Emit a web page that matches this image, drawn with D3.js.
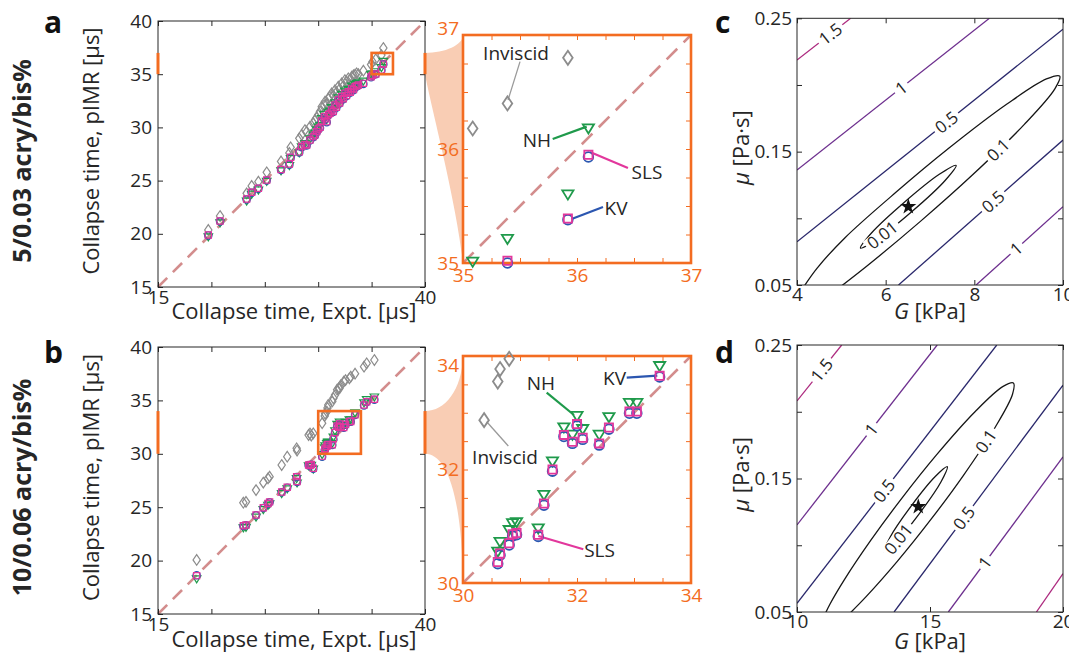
<!DOCTYPE html>
<html>
<head>
<meta charset="utf-8">
<script src="https://cdn.jsdelivr.net/npm/d3@7"></script>
<style>
  body { margin: 0; background: #fff; }
  svg { display: block; }
</style>
</head>
<body>
<script>
// ---------- data ----------
// row a: 5/0.03 acry/bis%
const expA = [19.71, 20.81, 23.30, 23.77, 24.40, 25.18, 26.52, 27.30, 27.42, 28.23, 28.45, 28.76, 28.92, 29.23, 29.54, 29.70, 29.86, 30.00, 30.17, 30.33, 30.57, 30.64, 30.80, 30.95, 31.10, 31.26, 31.40, 31.57, 31.70, 31.88, 32.00, 32.20, 32.35, 32.50, 32.65, 32.82, 33.00, 33.14, 33.30, 33.45, 33.60, 33.76, 34.23, 34.95, 35.085, 35.39, 35.92, 36.10];
const invA = [20.36, 21.67, 23.80, 24.50, 24.90, 25.78, 26.80, 27.60, 28.13, 28.97, 29.30, 29.75, 29.60, 30.07, 30.40, 30.70, 30.90, 31.17, 31.50, 31.95, 32.10, 32.42, 32.20, 32.73, 32.90, 33.20, 33.00, 33.50, 33.30, 33.83, 33.60, 34.14, 33.90, 34.45, 34.30, 34.61, 34.50, 34.76, 34.90, 34.95, 35.08, 35.00, 35.33, 35.90, 36.18, 36.40, 36.80, 37.46];
const nhA = [19.70, 21.00, 23.05, 23.70, 24.10, 24.90, 25.90, 26.40, 27.05, 27.60, 28.15, 28.45, 28.40, 28.90, 29.25, 29.45, 29.75, 30.00, 30.15, 30.80, 31.20, 31.00, 30.72, 31.40, 31.52, 31.84, 31.70, 32.30, 32.10, 32.77, 32.50, 33.09, 32.90, 33.40, 33.20, 33.56, 33.50, 33.87, 33.75, 34.03, 34.10, 34.18, 34.34, 34.95, 35.01, 35.21, 35.60, 36.18];
const kvA = [19.85, 21.15, 23.22, 23.85, 24.23, 25.01, 26.00, 26.50, 27.15, 27.65, 28.14, 28.35, 28.30, 28.77, 29.08, 29.25, 29.55, 29.80, 29.95, 30.55, 30.95, 30.75, 30.49, 31.15, 31.28, 31.59, 31.45, 32.05, 31.85, 32.52, 32.25, 32.84, 32.65, 33.15, 32.95, 33.31, 33.25, 33.62, 33.50, 33.78, 33.85, 33.93, 34.09, 34.71, 34.86, 35.00, 35.38, 35.93];
const slsA = [19.89, 21.20, 23.27, 23.90, 24.28, 25.06, 26.05, 26.55, 27.20, 27.70, 28.19, 28.40, 28.35, 28.82, 29.13, 29.30, 29.60, 29.85, 30.00, 30.60, 31.00, 30.80, 30.54, 31.20, 31.33, 31.64, 31.50, 32.10, 31.90, 32.57, 32.30, 32.89, 32.70, 33.20, 33.00, 33.36, 33.30, 33.67, 33.55, 33.83, 33.90, 33.98, 34.14, 34.76, 34.90, 35.02, 35.39, 35.95];

// row b: 10/0.06 acry/bis%
const expB = [18.62, 22.99, 23.24, 24.18, 24.86, 25.30, 25.45, 26.58, 27.10, 27.98, 28.02, 29.10, 29.23, 29.35, 29.54, 30.37, 30.61, 30.65, 30.81, 30.87, 30.94, 31.32, 31.42, 31.57, 31.77, 31.92, 32.00, 32.10, 32.39, 32.56, 32.92, 33.05, 33.45, 34.29, 34.54, 35.26];
const invB = [20.06, 25.42, 25.50, 26.60, 27.30, 27.70, 27.86, 28.95, 29.73, 30.51, 30.30, 31.76, 31.90, 31.70, 31.92, 32.87, 33.55, 33.77, 33.95, 34.30, 34.57, 34.90, 35.20, 35.50, 36.00, 36.13, 36.13, 36.40, 36.75, 36.90, 37.07, 37.22, 37.50, 38.16, 38.47, 38.78];
const nhB = [18.27, 23.05, 23.10, 24.05, 24.75, 25.15, 25.30, 26.25, 26.70, 27.65, 27.25, 28.85, 28.80, 28.90, 28.55, 29.90, 30.55, 30.72, 30.93, 31.05, 31.07, 30.96, 31.55, 32.14, 32.74, 32.61, 32.94, 32.71, 32.61, 32.92, 33.17, 33.17, 33.82, 34.75, 35.05, 35.30];
const kvB = [18.62, 23.25, 23.30, 24.24, 24.92, 25.32, 25.47, 26.39, 26.83, 27.83, 27.37, 28.92, 28.87, 28.97, 28.60, 29.72, 30.34, 30.49, 30.67, 30.83, 30.85, 30.82, 31.37, 31.97, 32.58, 32.46, 32.77, 32.53, 32.43, 32.71, 32.99, 32.99, 33.63, 34.53, 34.84, 35.07];
const slsB = [18.59, 23.27, 23.33, 24.27, 24.95, 25.35, 25.50, 26.42, 26.86, 27.86, 27.40, 28.95, 28.90, 29.00, 28.64, 29.78, 30.37, 30.52, 30.70, 30.86, 30.88, 30.85, 31.40, 32.00, 32.61, 32.49, 32.80, 32.56, 32.46, 32.74, 33.02, 33.02, 33.65, 34.57, 34.88, 35.10];

// callouts in the zoomed panels: text centre, line start, line end (data units)
const annotA = [
  { key: "inv", text: "Inviscid", at: [35.465, 36.842], from: [35.50, 36.766], to: [35.395, 36.43] },
  { key: "nh", text: "NH", at: [35.649, 36.079], from: [35.787, 36.088], to: [36.085, 36.196] },
  { key: "sls", text: "SLS", at: [36.614, 35.798], from: [36.447, 35.833], to: [36.114, 35.974] },
  { key: "kv", text: "KV", at: [36.342, 35.482], from: [36.228, 35.491], to: [35.953, 35.386] }
];
const annotB = [
  { key: "kv", text: "KV", at: [32.658, 33.612], from: [32.872, 33.618], to: [33.409, 33.653] },
  { key: "nh", text: "NH", at: [31.368, 33.524], from: [31.468, 33.353], to: [31.947, 32.96] },
  { key: "inv", text: "Inviscid", at: [30.737, 32.22], from: [30.795, 32.414], to: [30.416, 32.842] },
  { key: "sls", text: "SLS", at: [32.395, 30.581], from: [32.111, 30.594], to: [31.321, 30.828] }
];

const cLevel15 = [[4.0, 0.2187], [5.21, 0.25]];
const cLevel1Up = [[4.0, 0.1362], [8.34, 0.25]];
const cLevel05Up = [[4.0, 0.0824], [10.0, 0.2418]];
const cLevel01 = [[4.12, 0.047], [4.45, 0.0625], [5.078, 0.0853], [6.231, 0.1195], [7.415, 0.1523], [8.728, 0.1855], [9.626, 0.2045], [9.926, 0.2066], [9.816, 0.1971], [9.123, 0.1703], [7.943, 0.1321], [6.79, 0.0979], [5.606, 0.065], [4.78, 0.0436]];
const cLevel001 = [[7.589, 0.1397], [7.21, 0.133], [6.423, 0.1121], [5.685, 0.0892], [5.432, 0.0777], [5.811, 0.0844], [6.599, 0.1053], [7.336, 0.1282]];
const cLevel05Low = [[6.29, 0.05], [10.0, 0.1587]];
const cLevel1Low = [[8.04, 0.05], [10.0, 0.1087]];
const cLabels = [["1.5", 4.744, 0.2388], ["1", 6.21, 0.2037], ["0.5", 7.24, 0.1775], ["0.1", 8.505, 0.1525], ["0.01", 5.985, 0.085], ["0.5", 8.428, 0.1124], ["1", 8.87, 0.08]];
const cBest = [6.511, 0.1087];

const dLevel15Up = [[10.0, 0.2081], [11.68, 0.25]];
const dLevel15Low = [[19.0, 0.05], [20.0, 0.0787]];
const dLevel1Up = [[10.0, 0.1152], [15.27, 0.25]];
const dLevel05Up = [[10.0, 0.0565], [17.51, 0.25]];
const dLevel01 = [[10.921, 0.0427], [11.237, 0.0558], [11.771, 0.0739], [12.771, 0.1036], [13.974, 0.1361], [15.244, 0.1677], [16.692, 0.2], [17.733, 0.2188], [18.135, 0.2216], [18.102, 0.2131], [17.451, 0.1884], [16.252, 0.1522], [15.049, 0.1197], [13.778, 0.0881], [12.59, 0.0613], [11.853, 0.0464]];
const dLevel001 = [[15.65, 0.1588], [15.188, 0.1513], [14.297, 0.1295], [13.504, 0.1062], [13.274, 0.0952], [13.737, 0.1027], [14.628, 0.1245], [15.421, 0.1478]];
const dLevel05Low = [[13.65, 0.05], [20.0, 0.22]];
const dLevel1Low = [[15.69, 0.05], [20.0, 0.1661]];
const dLabels = [["1.5", 10.93, 0.2313], ["1", 12.67, 0.1888], ["0.5", 13.0, 0.1451], ["0.1", 17.13, 0.1776], ["0.01", 14.0, 0.1015], ["0.5", 16.13, 0.1227], ["1", 16.94, 0.089]];
const dBest = [14.56, 0.1289];

const muTicks = [0.05, 0.1, 0.15, 0.2, 0.25];
const muTickLabels = [0.05, 0.15, 0.25];

// ---------- style ----------
const FONT = '"Open Sans", "DejaVu Sans", sans-serif';
const INK = "#262626";
const ORANGE = "#f36c21";
const PEACH = "#f9cdb4";
const DIAG = "#d38d8d";
const TICK_FONT = 19;
const TITLE_FONT = 22;
const SERIES = [
  { key: "inv", color: "#8c8c8c", shape: "diamond" },
  { key: "nh", color: "#1f9a4b", shape: "triangle" },
  { key: "kv", color: "#2b56b0", shape: "circle" },
  { key: "sls", color: "#e2379c", shape: "square" }
];
const LEVEL_COLOR = { "0.01": "#161616", "0.1": "#161616", "0.5": "#29276b", "1": "#6d2f8e", "1.5": "#ad2a7f" };

const MAIN_X = [158, 425];
const ZOOM_X = [463, 691];
const CONT_X = [797, 1063];

const rows = [
  {
    letter: "a", label: "5/0.03 acry/bis%",
    exp: expA, inv: invA, nh: nhA, kv: kvA, sls: slsA, annot: annotA,
    mainY: [287, 21], zoomY: [263, 35], zoomDom: [35, 37], zoomStep: 0.25, zoomLabels: [35, 36, 37],
    topShift: -7, funnelTop: [[0.53, 0], [1, 0.44]], funnelBot: [[0.18, 0.19], [0.82, 0.67]],
    letterY: 33, mainLabelY: 319,
    cont: {
      gDom: [4, 10], gTicks: [4, 6, 8, 10], y: [285, 18.3], labelY: 319, best: cBest, labels: cLabels,
      lines: [
        { level: "1.5", pts: cLevel15 }, { level: "1", pts: cLevel1Up }, { level: "0.5", pts: cLevel05Up },
        { level: "0.1", pts: cLevel01 }, { level: "0.01", pts: cLevel001, closed: true },
        { level: "0.5", pts: cLevel05Low }, { level: "1", pts: cLevel1Low }
      ]
    }
  },
  {
    letter: "b", label: "10/0.06 acry/bis%",
    exp: expB, inv: invB, nh: nhB, kv: kvB, sls: slsB, annot: annotB,
    mainY: [614, 347], zoomY: [583, 356], zoomDom: [30, 34], zoomStep: 0.5, zoomLabels: [30, 32, 34],
    topShift: 9, funnelTop: [[0.53, 0], [0.97, 0.38]], funnelBot: [[0.53, 0], [0.97, 0.28]],
    letterY: 363, mainLabelY: 647,
    cont: {
      gDom: [10, 20], gTicks: [10, 15, 20], y: [612, 345], labelY: 649, best: dBest, labels: dLabels,
      lines: [
        { level: "1.5", pts: dLevel15Up }, { level: "1.5", pts: dLevel15Low }, { level: "1", pts: dLevel1Up },
        { level: "0.5", pts: dLevel05Up }, { level: "0.1", pts: dLevel01 },
        { level: "0.01", pts: dLevel001, closed: true }, { level: "0.5", pts: dLevel05Low }, { level: "1", pts: dLevel1Low }
      ]
    }
  }
];

const svg = d3.select("body").append("svg")
  .attr("width", 1069).attr("height", 654)
  .style("font-family", FONT);

function markerPath(shape, s) {
  switch (shape) {
    case "diamond": return `M0,${-7 * s}L${4.8 * s},0L0,${7 * s}L${-4.8 * s},0Z`;
    case "triangle": return `M${-5.6 * s},${-4.2 * s}L${5.6 * s},${-4.2 * s}L0,${5 * s}Z`;
    case "square": return `M${-4.1 * s},${-4.1 * s}h${8.2 * s}v${8.2 * s}h${-8.2 * s}Z`;
    default: {
      const r = 4.8 * s;
      return `M${r},0A${r},${r} 0 1,1 ${-r},0A${r},${r} 0 1,1 ${r},0Z`;
    }
  }
}

function axisStyle(sel, color) {
  sel.attr("font-family", null).attr("font-size", null);
  sel.select(".domain").remove();
  sel.selectAll("line").attr("stroke", color);
  sel.selectAll("text").attr("fill", color).attr("font-size", TICK_FONT).attr("font-family", FONT);
}

function drawFrame(g, x, y, o) {
  const [x0, x1] = x.range();
  const [yb, yt] = y.range();
  const pick = (list, f) => (d) => (list.some((v) => Math.abs(v - d) < 1e-9) ? f(d) : "");
  g.append("g").attr("transform", `translate(0,${yb})`)
    .call(d3.axisBottom(x).tickValues(o.xt).tickSize(-o.tick).tickSizeOuter(0).tickPadding(o.xpad).tickFormat(pick(o.xl, o.xfmt)))
    .call(axisStyle, o.color);
  g.append("g").attr("transform", `translate(0,${yt})`)
    .call(d3.axisTop(x).tickValues(o.xt).tickSize(-o.tick).tickSizeOuter(0).tickFormat(""))
    .call(axisStyle, o.color);
  const left = g.append("g").attr("transform", `translate(${x0},0)`)
    .call(d3.axisLeft(y).tickValues(o.yt).tickSize(-o.tick).tickSizeOuter(0).tickPadding(o.ypad).tickFormat(pick(o.yl, o.yfmt)))
    .call(axisStyle, o.color);
  g.append("g").attr("transform", `translate(${x1},0)`)
    .call(d3.axisRight(y).tickValues(o.yt).tickSize(-o.tick).tickSizeOuter(0).tickFormat(""))
    .call(axisStyle, o.color);
  g.append("rect")
    .attr("x", x0).attr("y", yt).attr("width", x1 - x0).attr("height", yb - yt)
    .attr("fill", "none").attr("stroke", o.color).attr("stroke-width", o.sw);
  return left;
}

function drawMarkers(g, row, x, y, s, dom) {
  const inside = (v) => !dom || (v >= dom[0] - 0.012 && v <= dom[1] + 0.012);
  SERIES.forEach((sr) => {
    const pts = row.exp.map((e, i) => [e, row[sr.key][i]]).filter((d) => inside(d[0]) && inside(d[1]));
    g.append("g").selectAll("path").data(pts).join("path")
      .attr("transform", (d) => `translate(${x(d[0])},${y(d[1])})`)
      .attr("d", markerPath(sr.shape, s))
      .attr("fill", "none")
      .attr("stroke", sr.color)
      .attr("stroke-width", s < 1 ? 1.2 : 1.8);
  });
}

function drawRow(row) {
  const xm = d3.scaleLinear().domain([15, 40]).range(MAIN_X);
  const ym = d3.scaleLinear().domain([15, 40]).range(row.mainY);
  const xz = d3.scaleLinear().domain(row.zoomDom).range(ZOOM_X);
  const yz = d3.scaleLinear().domain(row.zoomDom).range(row.zoomY);
  const [lo, hi] = row.zoomDom;

  // funnel linking the main axes to the zoom axes
  const cp = (a, b, f) => [a[0] + f[0] * (b[0] - a[0]), a[1] + f[1] * (b[1] - a[1])];
  const tA = [MAIN_X[1], ym(hi)], tB = [ZOOM_X[0], row.zoomY[1]];
  const bA = [MAIN_X[1], ym(lo)], bB = [ZOOM_X[0], row.zoomY[0]];
  const t1 = cp(tA, tB, row.funnelTop[0]), t2 = cp(tA, tB, row.funnelTop[1]);
  const b1 = cp(bA, bB, row.funnelBot[0]), b2 = cp(bA, bB, row.funnelBot[1]);
  svg.append("path")
    .attr("d", `M${tA}C${t1} ${t2} ${tB}L${bB}C${b2} ${b1} ${bA}Z`)
    .attr("fill", PEACH);

  // main scatter
  const gm = svg.append("g");
  gm.append("line")
    .attr("x1", xm(15)).attr("y1", ym(15)).attr("x2", xm(40)).attr("y2", ym(40))
    .attr("stroke", DIAG).attr("stroke-width", 2.6).attr("stroke-dasharray", "13,8");
  drawMarkers(gm, row, xm, ym, 0.76, null);
  const mainTicks = d3.range(15, 41, 5);
  drawFrame(gm, xm, ym, {
    xt: mainTicks, yt: mainTicks, xl: [15, 40], yl: mainTicks,
    xfmt: d3.format("d"), yfmt: d3.format("d"),
    color: INK, sw: 1, tick: 5, xpad: 3, ypad: 6
  });
  [MAIN_X[0], MAIN_X[1]].forEach((xx) => {
    gm.append("line").attr("x1", xx).attr("x2", xx).attr("y1", ym(hi)).attr("y2", ym(lo))
      .attr("stroke", ORANGE).attr("stroke-width", 3);
  });
  gm.append("rect")
    .attr("x", xm(lo)).attr("y", ym(hi)).attr("width", xm(hi) - xm(lo)).attr("height", ym(lo) - ym(hi))
    .attr("fill", "none").attr("stroke", ORANGE).attr("stroke-width", 2.6);

  const midY = (row.mainY[0] + row.mainY[1]) / 2;
  svg.append("text")
    .attr("transform", `translate(99,${midY - 3}) rotate(-90)`)
    .attr("text-anchor", "middle").attr("font-size", TITLE_FONT).attr("fill", INK)
    .text("Collapse time, pIMR [μs]");
  svg.append("text")
    .attr("x", 294).attr("y", row.mainLabelY)
    .attr("text-anchor", "middle").attr("font-size", TITLE_FONT).attr("fill", INK)
    .text("Collapse time, Expt. [μs]");
  svg.append("text")
    .attr("transform", `translate(31,${midY + 7}) rotate(-90)`)
    .attr("text-anchor", "middle").attr("font-size", 25).attr("font-weight", 700).attr("fill", INK)
    .text(row.label);
  svg.append("text")
    .attr("x", 44).attr("y", row.letterY)
    .attr("font-size", 30).attr("font-weight", 700).attr("fill", "#111")
    .text(row.letter);

  // zoomed scatter
  const gz = svg.append("g");
  gz.append("line")
    .attr("x1", xz(lo)).attr("y1", yz(lo)).attr("x2", xz(hi)).attr("y2", yz(hi))
    .attr("stroke", DIAG).attr("stroke-width", 2.6).attr("stroke-dasharray", "15,9");
  const zt = d3.range(lo, hi + row.zoomStep / 2, row.zoomStep);
  const left = drawFrame(gz, xz, yz, {
    xt: zt, yt: zt, xl: row.zoomLabels, yl: row.zoomLabels,
    xfmt: d3.format("d"), yfmt: d3.format("d"),
    color: ORANGE, sw: 2.6, tick: 5, xpad: 5, ypad: 4
  });
  left.selectAll(".tick text").filter((d) => d === hi).attr("transform", `translate(0,${row.topShift})`);

  row.annot.forEach((a) => {
    const col = SERIES.find((s) => s.key === a.key).color;
    gz.append("line")
      .attr("x1", xz(a.from[0])).attr("y1", yz(a.from[1])).attr("x2", xz(a.to[0])).attr("y2", yz(a.to[1]))
      .attr("stroke", a.key === "inv" ? "#9a9a9a" : col)
      .attr("stroke-width", a.key === "inv" ? 1.3 : 2.2);
  });
  drawMarkers(gz, row, xz, yz, 1, row.zoomDom);
  row.annot.forEach((a) => {
    gz.append("text")
      .attr("x", xz(a.at[0])).attr("y", yz(a.at[1])).attr("dy", "0.35em")
      .attr("text-anchor", "middle").attr("font-size", 19).attr("fill", INK)
      .text(a.text);
  });

  drawContour(row);
}

function nearestOnLines(lines, px, py) {
  let best = null;
  lines.forEach((pts) => {
    for (let i = 0; i < pts.length - 1; i += 1) {
      const [ax, ay] = pts[i], [bx, by] = pts[i + 1];
      const dx = bx - ax, dy = by - ay;
      const len2 = dx * dx + dy * dy || 1;
      const t = Math.max(0, Math.min(1, ((px - ax) * dx + (py - ay) * dy) / len2));
      const qx = ax + t * dx, qy = ay + t * dy;
      const dist = Math.hypot(px - qx, py - qy);
      if (!best || dist < best.dist) best = { dist, x: qx, y: qy, ang: Math.atan2(dy, dx) * 180 / Math.PI };
    }
  });
  let ang = best.ang;
  if (ang > 90) ang -= 180;
  if (ang < -90) ang += 180;
  best.ang = ang;
  return best;
}

let clipCount = 0;
function drawContour(row) {
  const c = row.cont;
  const x = d3.scaleLinear().domain(c.gDom).range(CONT_X);
  const y = d3.scaleLinear().domain([0.05, 0.25]).range(c.y);
  const id = `clip-${clipCount += 1}`;
  svg.append("clipPath").attr("id", id).append("rect")
    .attr("x", CONT_X[0]).attr("y", c.y[1]).attr("width", CONT_X[1] - CONT_X[0]).attr("height", c.y[0] - c.y[1]);

  const g = svg.append("g");
  const inner = g.append("g").attr("clip-path", `url(#${id})`);
  c.lines.forEach((l) => {
    const curve = l.closed ? d3.curveCatmullRomClosed : (l.pts.length > 2 ? d3.curveCatmullRom : d3.curveLinear);
    const line = d3.line().x((d) => x(d[0])).y((d) => y(d[1])).curve(curve);
    inner.append("path").attr("d", line(l.pts))
      .attr("fill", "none").attr("stroke", LEVEL_COLOR[l.level]).attr("stroke-width", 1.3);
  });

  c.labels.forEach(([level, gv, mu]) => {
    const cand = c.lines.filter((l) => l.level === level).map((l) => {
      const p = l.pts.map((d) => [x(d[0]), y(d[1])]);
      return l.closed ? p.concat([p[0]]) : p;
    });
    const pos = nearestOnLines(cand, x(gv), y(mu));
    const lg = inner.append("g").attr("transform", `translate(${pos.x},${pos.y}) rotate(${pos.ang})`);
    const t = lg.append("text")
      .attr("text-anchor", "middle").attr("dy", "0.36em")
      .attr("font-size", 17).attr("fill", INK).text(level);
    const w = t.node().getComputedTextLength();
    lg.insert("rect", "text")
      .attr("x", -w / 2 - 3).attr("y", -7).attr("width", w + 6).attr("height", 14).attr("fill", "#fff");
  });

  inner.append("path")
    .attr("transform", `translate(${x(c.best[0])},${y(c.best[1])})`)
    .attr("d", d3.symbol(d3.symbolStar).size(80)())
    .attr("fill", "#111");

  drawFrame(g, x, y, {
    xt: c.gTicks, yt: muTicks, xl: c.gTicks, yl: muTickLabels,
    xfmt: d3.format("d"), yfmt: (d) => d.toFixed(2),
    color: INK, sw: 1, tick: 5, xpad: 2, ypad: 5
  });

  const midY = (c.y[0] + c.y[1]) / 2;
  const yl = svg.append("text")
    .attr("transform", `translate(749,${midY - 4}) rotate(-90)`)
    .attr("text-anchor", "middle").attr("font-size", TITLE_FONT).attr("fill", INK);
  yl.append("tspan").attr("font-style", "italic").text("μ");
  yl.append("tspan").text(" [Pa·s]");
  const xl = svg.append("text")
    .attr("x", 930).attr("y", c.labelY)
    .attr("text-anchor", "middle").attr("font-size", TITLE_FONT).attr("fill", INK);
  xl.append("tspan").attr("font-style", "italic").text("G");
  xl.append("tspan").text(" [kPa]");
  svg.append("text")
    .attr("x", 715).attr("y", row.letterY)
    .attr("font-size", 30).attr("font-weight", 700).attr("fill", "#111")
    .text(row.letter === "a" ? "c" : "d");
}

rows.forEach(drawRow);
</script>
</body>
</html>
